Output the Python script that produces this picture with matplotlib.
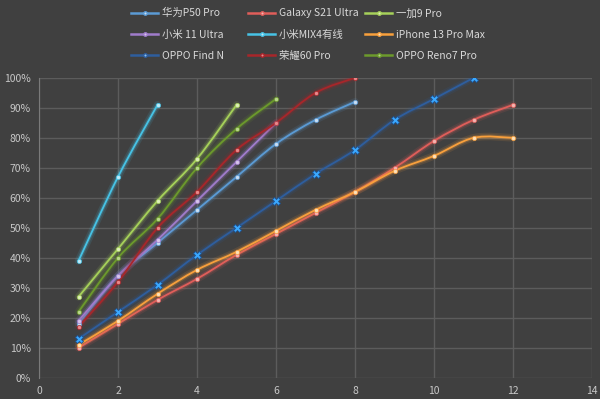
import numpy as np
import matplotlib
matplotlib.use('Agg')
import matplotlib.pyplot as plt
from matplotlib.path import Path
from matplotlib.patches import PathPatch
from matplotlib.lines import Line2D
import matplotlib.patheffects as pe

plt.rcParams['font.family'] = ['Noto Sans CJK SC', 'DejaVu Sans']

# battery charge (%) vs. time step
names = ['华为P50 Pro', 'Galaxy S21 Ultra', '一加9 Pro',
         '小米 11 Ultra', '小米MIX4有线', 'iPhone 13 Pro Max',
         'OPPO Find N', '荣耀60 Pro', 'OPPO Reno7 Pro']

huawei = [18, 34, 45, 56, 67, 78, 86, 92]
galaxy = [10, 18, 26, 33, 41, 48, 55, 62, 70, 79, 86, 91]
oneplus = [27, 43, 59, 73, 91]
mi11 = [19, 34, 46, 59, 72, 85]
mix4 = [39, 67, 91]
iphone = [11, 19, 28, 36, 42, 49, 56, 62, 69, 74, 80, 80]
findn = [13, 22, 31, 41, 50, 59, 68, 76, 86, 93, 100]
honor = [17, 32, 50, 62, 76, 85, 95, 100]
reno7 = [22, 40, 53, 70, 83, 93]

series = [huawei, galaxy, oneplus, mi11, mix4, iphone, findn, honor, reno7]
colors = ['#5b9bd5', '#e05e5a', '#a6d15a', '#a07ccc', '#47c3e6',
          '#f9a03c', '#2e5e9e', '#a8262a', '#6c9a2c']
marker_fc = ['#c9ddf2', '#f4b3b0', '#dcefb8', '#d6c4ea', '#bfeaf7',
             '#fde0b8', '#3aa8ff', '#e8888a', '#b9d68c']


def smooth_path(xs, ys):
    # Excel-like smoothed line as cubic bezier segments
    pts = np.column_stack([xs, ys]).astype(float)
    n = len(pts)
    verts = [pts[0]]
    codes = [Path.MOVETO]
    for i in range(n - 1):
        p0 = pts[i - 1] if i > 0 else pts[i]
        p1 = pts[i]
        p2 = pts[i + 1]
        p3 = pts[i + 2] if i + 2 < n else pts[i + 1]
        c1 = p1 + (p2 - p0) / 6.0
        c2 = p2 - (p3 - p1) / 6.0
        verts += [c1, c2, p2]
        codes += [Path.CURVE4] * 3
    return Path(verts, codes)


fig = plt.figure(figsize=(6, 3.99), dpi=100)
fig.patch.set_facecolor('#404040')
ax = fig.add_axes([0.065, 0.053, 0.922, 0.752])
ax.set_facecolor('#404040')

for vals, c, mfc, nm in zip(series, colors, marker_fc, names):
    xs = np.arange(1, len(vals) + 1)
    ys = np.array(vals) / 100.0
    patch = PathPatch(smooth_path(xs, ys), facecolor='none', edgecolor=c,
                      lw=1.3, zorder=3, capstyle='round', joinstyle='round')
    patch.set_path_effects([pe.Stroke(linewidth=5.5, foreground=c, alpha=0.12),
                            pe.Stroke(linewidth=3, foreground=c, alpha=0.25),
                            pe.Normal()])
    ax.add_patch(patch)
    if nm == 'OPPO Find N':
        ax.plot(xs, ys, ls='none', marker='X', ms=5.5, mfc=mfc, mec='#1f4f8a',
                mew=0.6, zorder=4)
    else:
        ax.plot(xs, ys, ls='none', marker='o', ms=3, mfc=mfc, mec=c,
                mew=0.5, zorder=4)

ax.set_xlim(0, 14)
ax.set_ylim(0, 1.0)
ax.set_xticks(np.arange(0, 15, 2))
ax.set_yticks(np.arange(0, 1.01, 0.1))
ax.set_yticklabels(['%d%%' % v for v in range(0, 101, 10)])
ax.grid(True, color='#5c5c5c', lw=1)
ax.set_axisbelow(True)
ax.tick_params(colors='#c8c8c8', labelsize=7.5, length=0, pad=6)
for s in ['top', 'right', 'bottom']:
    ax.spines[s].set_visible(False)
ax.spines['left'].set_color('#7a7a7a')

# legend: three columns placed individually
col_x = [0.212, 0.407, 0.602]
for col in range(3):
    hs = []
    for row in range(3):
        i = row * 3 + col
        if names[i] == 'OPPO Find N':
            h = Line2D([], [], color=colors[i], lw=1.8, marker='o', ms=2.5,
                       mfc='#8ec3f0', mec=colors[i])
        else:
            h = Line2D([], [], color=colors[i], lw=1.8, marker='o', ms=2.5,
                       mfc=marker_fc[i], mec=colors[i])
        h.set_label(names[i])
        hs.append(h)
    leg = fig.legend(handles=hs, loc='upper left', bbox_to_anchor=(col_x[col], 0.99),
                     frameon=False, fontsize=7.5, labelcolor='#d9d9d9',
                     handlelength=2.6, handletextpad=0.3, labelspacing=1.08,
                     borderaxespad=0)

fig.savefig('out.png', dpi=100, facecolor=fig.get_facecolor())
